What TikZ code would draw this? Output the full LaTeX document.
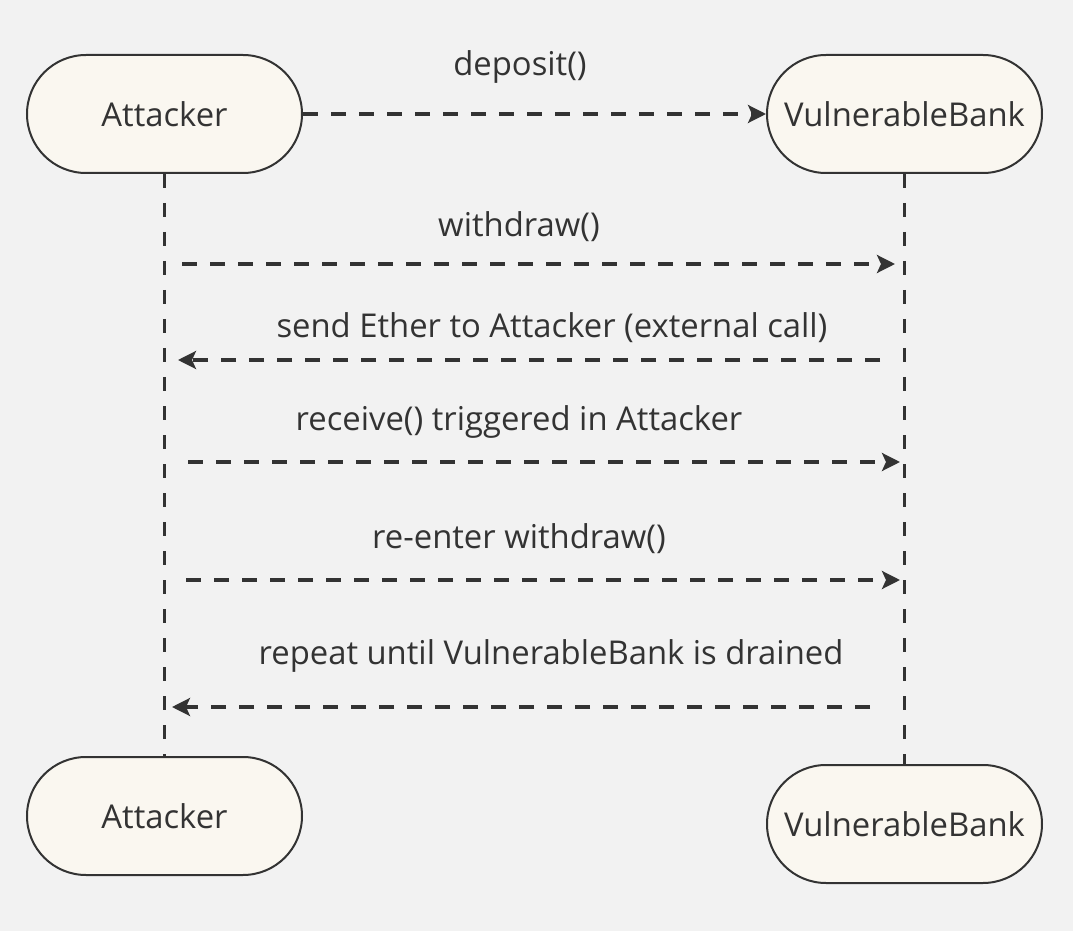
\documentclass[tikz,border=0pt]{standalone}
\usepackage{fontspec}
\setmainfont{Open Sans}
\usepackage{tikz}
\usetikzlibrary{arrows.meta,positioning}

\definecolor{bgGray}{HTML}{F2F2F2}
\definecolor{boxFill}{HTML}{FAF7F0}
\definecolor{inkGray}{HTML}{333333}

\begin{document}
\begin{tikzpicture}[x=0.5pt, y=-0.5pt, font=\fontsize{16.4}{19}\selectfont, text=inkGray]
		\tikzstyle{Actor}	= [rectangle, draw=inkGray, line width=1pt, fill=boxFill, rounded corners=29.5pt, minimum width=137.5pt, minimum height=59pt, inner sep=0pt]
		\tikzstyle{Life}	= [inkGray, line width=1.6pt, dash pattern=on 7pt off 7.5pt]
		\tikzstyle{Msg}		= [inkGray, line width=1.6pt, dash pattern=on 7.5pt off 6.5pt, -{Stealth[length=9pt, width=9pt, inset=2pt]}]
		\tikzstyle{Label}	= [inner sep=0pt]

		\fill[bgGray] (0, 0) rectangle (1073, 931);

		\node (at1) at (164.5, 114) [Actor] {Attacker};
		\node (vb1) at (904.5, 114) [Actor] {VulnerableBank};
		\node (at2) at (164.5, 816) [Actor] {Attacker};
		\node (vb2) at (904.5, 824) [Actor] {VulnerableBank};

		\draw [-] (at1) to (at2) [Life];
		\draw [-] (vb1) to (vb2) [Life];

		% message ends on the lifelines
		\coordinate (w1) at (182, 264);
		\coordinate (w2) at (895, 264);
		\coordinate (s1) at (880, 360);
		\coordinate (s2) at (178, 360);
		\coordinate (r1) at (188, 462);
		\coordinate (r2) at (900, 462);
		\coordinate (e1) at (186, 580);
		\coordinate (e2) at (900, 580);
		\coordinate (p1) at (870, 707);
		\coordinate (p2) at (172, 707);

		\draw (at1) to (vb1) [Msg];
		\draw (w1) to (w2) [Msg];
		\draw (s1) to (s2) [Msg];
		\draw (r1) to (r2) [Msg];
		\draw (e1) to (e2) [Msg];
		\draw (p1) to (p2) [Msg];

		\node (l1) at (520, 67) [Label] {deposit()};
		\node (l2) at (519, 227) [Label] {withdraw()};
		\node (l3) at (552, 328) [Label] {send Ether to Attacker (external call)};
		\node (l4) at (519, 422) [Label] {receive() triggered in Attacker};
		\node (l5) at (519, 539) [Label] {re-enter withdraw()};
		\node (l6) at (551, 656) [Label] {repeat until VulnerableBank is drained};
\end{tikzpicture}
\end{document}
